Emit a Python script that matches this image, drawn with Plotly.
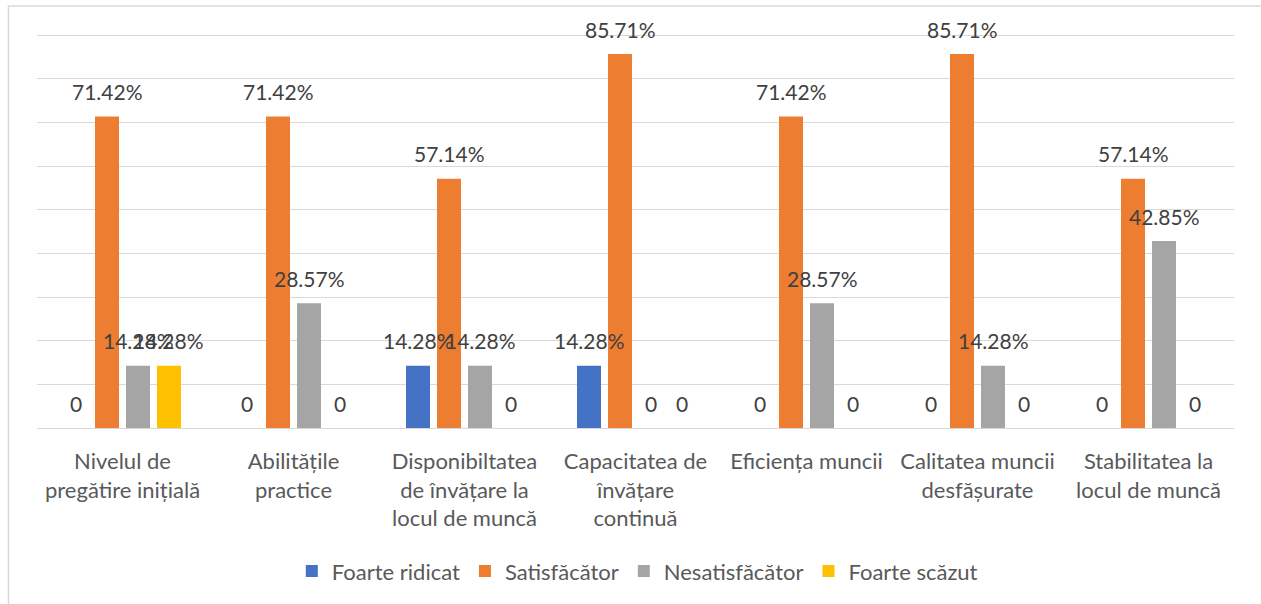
import plotly.graph_objects as go

categories = [
    "Nivelul de<br>pregătire inițială",
    "Abilitățile<br>practice",
    "Disponibiltatea<br>de învățare la<br>locul de muncă",
    "Capacitatea de<br>învățare<br>continuă",
    "Eficiența muncii",
    "Calitatea muncii<br>desfășurate",
    "Stabilitatea la<br>locul de muncă",
]
series_names = ["Foarte ridicat", "Satisfăcător", "Nesatisfăcător", "Foarte scăzut"]
foarte_ridicat = [0, 0, 14.28, 14.28, 0, 0, 0]
satisfacator = [71.42, 71.42, 57.14, 85.71, 71.42, 85.71, 57.14]
nesatisfacator = [14.28, 28.57, 14.28, 0, 28.57, 14.28, 42.85]
foarte_scazut = [14.28, 0, 0, 0, 0, 0, 0]
series_values = [foarte_ridicat, satisfacator, nesatisfacator, foarte_scazut]
colors = ["#4472C4", "#ED7D31", "#A5A5A5", "#FFC000"]

FONT = "Lato"
BARGAP = 0.275
n_series = len(series_values)
slot = (1 - BARGAP) / n_series

fig = go.Figure()
x_idx = list(range(len(categories)))
for name, vals, col in zip(series_names, series_values, colors):
    fig.add_trace(go.Bar(x=x_idx, y=vals, name=name, marker_color=col,
                         marker_line_width=0, hoverinfo="skip"))

annotations = []
for s, vals in enumerate(series_values):
    off = (s - (n_series - 1) / 2) * slot
    for i, v in enumerate(vals):
        txt = "0" if v == 0 else f"{v:.2f}%"
        annotations.append(dict(x=i + off, y=v, xref="x", yref="y", text=txt,
                                showarrow=False, yanchor="middle", yshift=25,
                                font=dict(family=FONT, size=21, color="#404040")))

plot_h = 604 - 31 - 176
fig.update_layout(
    width=1261, height=604,
    barmode="group", bargap=BARGAP, bargroupgap=0.226,
    plot_bgcolor="white", paper_bgcolor="white",
    margin=dict(l=37, r=27, t=31, b=176),
    font=dict(family=FONT, size=22, color="#595959"),
    xaxis=dict(tickmode="array", tickvals=x_idx, ticktext=categories,
               range=[-0.5, len(categories) - 0.5], showgrid=False,
               zeroline=False, showline=False, ticks="",
               tickfont=dict(family=FONT, size=22, color="#595959"),
               ticklabelstandoff=18),
    yaxis=dict(range=[0, 91], tickmode="linear", tick0=0, dtick=10,
               showticklabels=False, showgrid=True,
               gridcolor="#D9D9D9", gridwidth=1, zeroline=True,
               zerolinecolor="#D9D9D9", zerolinewidth=1, showline=False),
    legend=dict(orientation="h", x=0.5015, xanchor="center", y=-0.361,
                yanchor="middle", font=dict(family=FONT, size=22, color="#595959"),
                itemwidth=30, tracegroupgap=0),
    annotations=annotations,
    shapes=[dict(type="rect", xref="paper", yref="paper",
                 x0=(8.5 - 37) / 1197, x1=1.1, y0=-1.5, y1=1 + (31 - 6) / plot_h,
                 line=dict(color="#D9D9D9", width=1.5), fillcolor="rgba(0,0,0,0)",
                 layer="below")],
    showlegend=True,
)

fig.write_html("out.html", config={"displayModeBar": False},
               post_script="document.body.style.margin='0';")
